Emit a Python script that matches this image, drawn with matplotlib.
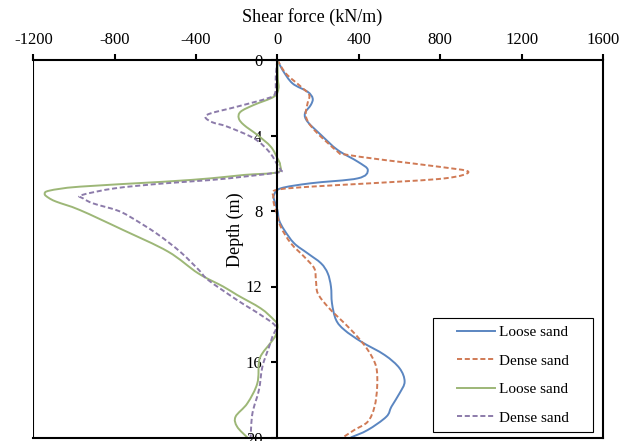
import numpy as np
import matplotlib
matplotlib.use("Agg")
import matplotlib.pyplot as plt
from matplotlib.patches import Rectangle, PathPatch
from matplotlib.path import Path
from matplotlib.lines import Line2D

plt.rcParams['font.family'] = ['Liberation Serif', 'DejaVu Serif']
plt.rcParams['axes.unicode_minus'] = False

# loose sand, positive side (blue)
loose_pos_depth = [0, 0.53, 1.24, 1.68, 2.03, 2.38, 2.83, 3.27, 3.97, 4.77, 5.39, 5.83,
                   6.27, 6.53, 6.8, 7.15, 7.42, 7.95, 8.48, 9.0, 9.71, 10.24, 10.77, 11.3,
                   12.01, 12.89, 13.77, 14.3, 14.92, 15.63, 16.33, 17.04, 17.66, 18.37,
                   18.9, 19.6, 20.0]
loose_pos = [0, 25, 74, 148, 173, 164, 135, 148, 214, 296, 395, 444,
             395, 164, 16, -17, -16, 0, 8, 33, 82, 148, 214, 247,
             263, 268, 288, 329, 411, 527, 600, 625, 600, 560,
             535, 444, 360]

# dense sand, positive side (orange dashed)
dense_pos_depth = [0, 0.71, 1.41, 1.85, 2.29, 3.0, 3.71, 4.86, 5.0, 5.3, 5.65, 5.92,
                   6.27, 6.53, 6.71, 6.89, 7.24, 7.59, 7.95, 8.83, 9.71, 10.42, 11.04,
                   11.66, 12.36, 13.07, 13.6, 14.48, 15.36, 16.25, 17.31, 18.37, 19.16,
                   19.6, 20.0]
dense_pos = [0, 41, 115, 156, 148, 140, 181, 296, 329, 527, 790, 938,
             823, 461, 164, -8, -20, -18, -8, 16, 66, 131, 181,
             189, 198, 247, 296, 378, 444, 485, 490, 477, 444,
             378, 321]

# loose sand, negative side (green)
loose_neg_depth = [0, 1.0, 1.5, 1.94, 2.38, 2.74, 3.09, 3.44, 3.97, 4.59, 5.21, 5.56,
                   5.95, 6.09, 6.27, 6.45, 6.71, 6.92, 7.1, 7.3, 7.51, 7.95, 9.0, 10.15,
                   11.3, 12.0, 12.45, 13.16, 13.77, 14.04, 14.57, 15.0, 15.54, 15.98,
                   17.13, 18.19, 18.9, 19.43, 20.0]
loose_neg = [0, 2, 5, -17, -116, -181, -190, -165, -99, -33, 0, 13,
             0, -165, -329, -560, -971, -1120, -1144, -1125, -1086, -971, -760, -538,
             -390, -267, -198, -82, -17, 0, -8, -35, -74, -91,
             -99, -148, -206, -198, -148]

# dense sand, negative side (purple dashed)
dense_neg_depth = [0, 0.79, 1.77, 2.03, 2.47, 2.83, 3.04, 3.3, 3.53, 4.15, 4.86, 5.56,
                   5.83, 5.95, 6.18, 6.36, 6.54, 6.8, 7.16, 7.34, 7.6, 7.96, 8.31, 9.2,
                   10.17, 11.14, 11.66, 12.72, 13.51, 14.1, 14.66, 15.19, 16.25, 17.48,
                   18.72, 20.0]
dense_neg = [0, -8, -12, -49, -198, -329, -354, -320, -247, -116, -41, 0,
             16, 8, -165, -329, -560, -800, -963, -954, -905, -790, -724, -593,
             -477, -385, -340, -198, -82, -10, -25, -41, -74, -91,
             -123, -132]

labels = ['Loose sand', 'Dense sand', 'Loose sand', 'Dense sand']
colors = ['#5B86C1', '#D07A55', '#9DB777', '#8C7BAA']
x_ticks = [-1200, -800, -400, 0, 400, 800, 1200, 1600]
y_ticks = [0, 4, 8, 12, 16, 20]


def smooth_path(x, y):
    # Excel-like smoothed line: cubic Bezier through every data point
    p = np.column_stack([x, y]).astype(float)
    n = len(p)
    verts = [p[0]]
    codes = [Path.MOVETO]
    for i in range(n - 1):
        p0 = p[i - 1] if i > 0 else p[i]
        p3 = p[i + 2] if i + 2 < n else p[i + 1]
        c1 = p[i] + (p[i + 1] - p0) / 6.0
        c2 = p[i + 1] - (p3 - p[i]) / 6.0
        verts += [c1, c2, p[i + 1]]
        codes += [Path.CURVE4] * 3
    return Path(verts, codes)


fig = plt.figure(figsize=(6.3, 4.41), dpi=100)
ax = fig.add_axes([33.3 / 630, 1 - 437.5 / 441, (603 - 33.3) / 630, 377.5 / 441])

lw = 1.4
series = [(loose_pos, loose_pos_depth, '-'), (dense_pos, dense_pos_depth, '--'),
          (loose_neg, loose_neg_depth, '-'), (dense_neg, dense_neg_depth, '--')]
handles = []
for (xs, ys, ls), c in zip(series, colors):
    patch = PathPatch(smooth_path(xs, ys), fill=False, ec=c, lw=lw, zorder=2)
    if ls == '--':
        patch.set_linestyle((0, (2.6, 1.4)))
    ax.add_patch(patch)
    h = Line2D([], [], color=c, lw=lw)
    if ls == '--':
        h.set_dashes((2.6, 1.4))
    handles.append(h)

ax.set_xlim(-1200, 1600)
ax.set_ylim(20, 0)

ax.set_xticks(x_ticks)
ax.set_xticklabels([str(t) for t in x_ticks])
ax.set_yticks(y_ticks)
ax.set_yticklabels([str(t) for t in y_ticks])

ax.xaxis.set_ticks_position('top')
ax.yaxis.set_ticks_position('left')
ax.spines['left'].set_position(('data', 0))
for s in ['left', 'top', 'right', 'bottom']:
    ax.spines[s].set_linewidth(1.5)
ax.axvline(-1200, color='black', lw=1.5)

ax.tick_params(axis='x', direction='out', length=4.3, width=1.5, pad=4.5, labelsize=12)
ax.tick_params(axis='y', direction='out', length=4.3, width=1.5, pad=6.5, labelsize=12)

fig.text(311.7 / 630, 1 - 17 / 441, 'Shear force (kN/m)', ha='center', va='center', fontsize=13)
fig.text(235 / 630, 1 - 230 / 441, 'Depth (m)', ha='center', va='center', rotation=90, fontsize=13)

ax.legend(handles, labels, loc='center', bbox_to_anchor=(0.842, 0.1656),
          frameon=False, fontsize=11, handlelength=2.5, handletextpad=0.26,
          labelspacing=0.97, borderaxespad=0)
ax.add_patch(Rectangle((0.7016, 0.0146), 0.2809, 0.302, transform=ax.transAxes,
                       fill=False, ec='black', lw=0.8))

fig.savefig('out.png', dpi=100)
